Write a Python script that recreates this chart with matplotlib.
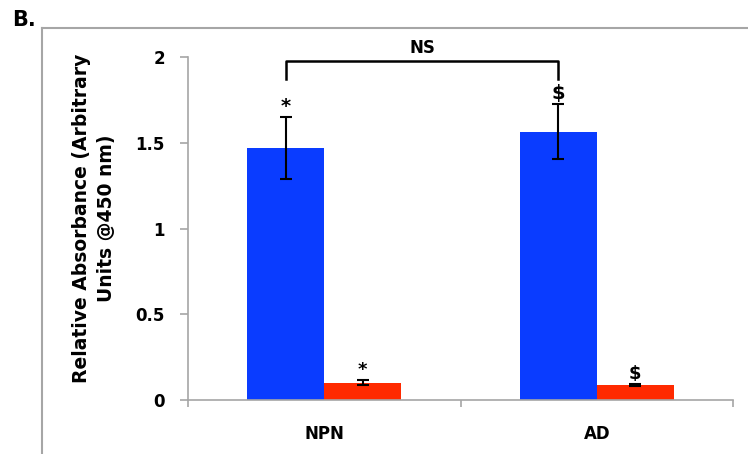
import numpy as np
from matplotlib import pyplot as plt
from matplotlib.lines import Line2D

groups = ['NPN', 'AD']
blue_vals = [1.47, 1.565]
blue_err = [0.18, 0.16]
red_vals = [0.10, 0.087]
red_err = [0.015, 0.006]
blue_marks = ['*', '$']
red_marks = ['*', '$']
bracket_label = 'NS'
yticks = [0, 0.5, 1, 1.5, 2]
ytick_labels = ['0', '0.5', '1', '1.5', '2']

plt.rcParams['font.family'] = ['DejaVu Sans']
fig = plt.figure(figsize=(7.48, 4.54), dpi=100)
ax = fig.add_axes([0.2513, 0.1189, 0.7287, 0.7555])

x = np.arange(len(groups))
w = 0.283
gray = '#a6a6a6'

ax.bar(x - w / 2, blue_vals, w, color='#0a3cff')
ax.bar(x + w / 2, red_vals, w, color='#ff2a00')
ax.errorbar(x - w / 2, blue_vals, yerr=blue_err, fmt='none', ecolor='black',
            elinewidth=1.5, capsize=4.5, capthick=1.5)
ax.errorbar(x + w / 2, red_vals, yerr=red_err, fmt='none', ecolor='black',
            elinewidth=1.5, capsize=4.5, capthick=1.5)

for xi, v, e, m in zip(x - w / 2, blue_vals, blue_err, blue_marks):
    ax.text(xi, v + e + 0.005, m, ha='center', va='bottom', fontsize=14,
            fontweight='bold')
for xi, v, e, m in zip(x + w / 2, red_vals, red_err, red_marks):
    ax.text(xi, v + e + 0.005, m, ha='center', va='bottom', fontsize=13,
            fontweight='bold')

# NS bracket
bx = x - w / 2
ax.plot([bx[0], bx[0], bx[1], bx[1]], [1.87, 1.977, 1.977, 1.87],
        color='black', lw=1.8, clip_on=False)
ax.text(bx.mean(), 2.0, bracket_label, ha='center', va='bottom', fontsize=12,
        fontweight='bold', clip_on=False)

ax.set_ylim(0, 2)
ax.set_xlim(-0.5, 1.5)
ax.set_yticks(yticks)
ax.set_yticklabels(ytick_labels, fontsize=12, fontweight='bold')
ax.set_xticks([-0.5, 0.5, 1.5])
ax.set_xticklabels(['', '', ''])
ax.set_xticks(x, minor=True)
ax.set_xticklabels(groups, minor=True, fontsize=12, fontweight='bold')
ax.tick_params(axis='x', which='minor', length=0, pad=18)
ax.tick_params(axis='x', which='major', length=5, width=1.2, color=gray)
ax.tick_params(axis='y', length=5.5, width=1.2, color=gray, pad=11)
for s in ['top', 'right']:
    ax.spines[s].set_visible(False)
for s in ['left', 'bottom']:
    ax.spines[s].set_color(gray)
    ax.spines[s].set_linewidth(1.2)

fig.text(94 / 748, 1 - 218 / 454,
         'Relative Absorbance (Arbitrary\nUnits @450 nm)', rotation=90,
         ha='center', va='center', fontsize=13.5, fontweight='bold',
         multialignment='center', linespacing=1.45)

# panel border and label
fig.add_artist(Line2D([42 / 748, 42 / 748], [0, 1 - 28 / 454], color=gray, lw=1.5))
fig.add_artist(Line2D([42 / 748, 1], [1 - 28 / 454, 1 - 28 / 454], color=gray, lw=1.5))
fig.text(12 / 748, 1 - 20 / 454, 'B.', fontsize=15, fontweight='bold',
         ha='left', va='center')

fig.savefig('out.png', dpi=100)
